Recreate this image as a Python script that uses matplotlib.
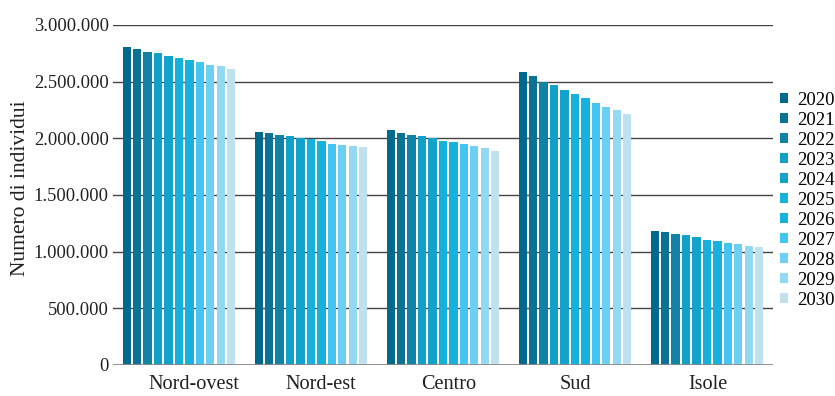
import matplotlib.pyplot as plt
import numpy as np
from matplotlib.patches import Patch

regions = ["Nord-ovest", "Nord-est", "Centro", "Sud", "Isole"]
years = [str(y) for y in range(2020, 2031)]

nord_ovest = [2809000, 2788000, 2762000, 2753000, 2726000, 2709000, 2691000, 2674000, 2647000, 2638000, 2612000]
nord_est = [2058000, 2047000, 2029000, 2020000, 2003000, 1997000, 1976000, 1952000, 1943000, 1935000, 1920000]
centro = [2073000, 2047000, 2029000, 2020000, 2003000, 1976000, 1967000, 1950000, 1932000, 1914000, 1888000]
sud = [2585000, 2550000, 2497000, 2467000, 2426000, 2391000, 2355000, 2311000, 2276000, 2250000, 2214000]
isole = [1182000, 1173000, 1156000, 1147000, 1129000, 1103000, 1094000, 1076000, 1067000, 1050000, 1041000]

colors = ["#006a8e", "#0a7393", "#0f82a6", "#11a0c8", "#12a2cb", "#14b0de",
          "#15b2e0", "#42c6f1", "#6ccff4", "#93d9f4", "#bfe1ef"]

# labels in the original sit a little right of the group centre
label_shift = [0.11, 0.075, 0.04, 0.0, 0.01]

plt.rcParams['font.family'] = ['Liberation Serif', 'DejaVu Serif']
txt = "#231f20"

data = np.array([nord_ovest, nord_est, centro, sud, isole])

fig = plt.figure(figsize=(8.35, 3.96), dpi=100)
ax = fig.add_axes([0.1353, 0.0783, 0.7904, 0.8586])

x = np.arange(len(regions))
group_w = 0.87
slot = group_w / len(years)
for j, yr in enumerate(years):
    off = -group_w / 2 + slot * (j + 0.5)
    ax.bar(x + off, data[:, j], width=slot * 0.8, color=colors[j], zorder=3)

ax.set_xlim(-0.5, len(regions) - 0.5)
ax.set_ylim(0, 3000000)
ticks = np.arange(0, 3000001, 500000)
ax.set_yticks(ticks)
ax.set_yticklabels([f"{t:,}".replace(",", ".") for t in ticks], fontsize=13.3, color=txt)
ax.yaxis.grid(True, color="#444444", linewidth=1.0, zorder=0)
ax.axhline(0, color="#8a8a8a", linewidth=2, zorder=4)
ax.tick_params(axis='y', length=0, pad=3)
ax.set_xticks([])
for i, r in enumerate(regions):
    ax.text(x[i] + label_shift[i], -0.071, r, transform=ax.get_xaxis_transform(),
            ha='center', va='baseline', fontsize=14.6, color=txt)
for s in ax.spines.values():
    s.set_visible(False)
ax.set_ylabel("Numero di individui", fontsize=15.5, color=txt)
ax.yaxis.set_label_coords(-0.126, 0.52)

handles = [Patch(facecolor=c, edgecolor='none') for c in colors]
fig.legend(handles, years, loc='upper left', bbox_to_anchor=(0.934, 0.768),
           frameon=False, fontsize=13.5, handlelength=0.45, handleheight=0.45,
           handletextpad=0.45, labelspacing=0.16, borderaxespad=0, borderpad=0)

fig.savefig("out.png", dpi=100)
